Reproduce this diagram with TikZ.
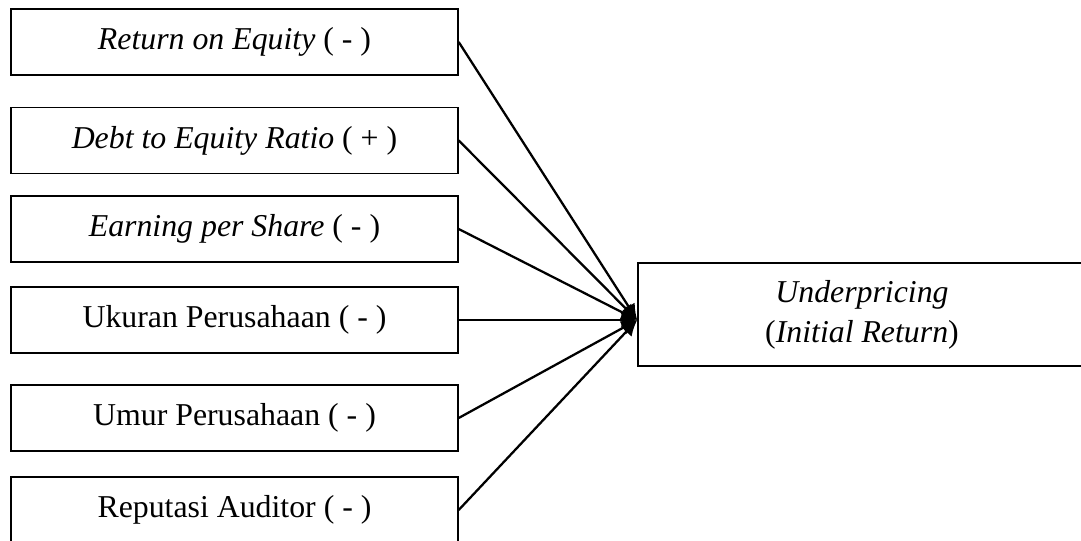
\documentclass[tikz,border=0pt]{standalone}
\usepackage{fontspec}
\setmainfont{Liberation Serif}
\usepackage{tikz}
\usetikzlibrary{arrows.meta, positioning, calc}

\begin{document}
\begin{tikzpicture}[x=0.44pt,y=-0.44pt,
  varbox/.style={draw, line width=0.8pt, minimum width=196.5pt, minimum height=29pt,
    inner sep=0pt, font=\fontsize{14pt}{17.5pt}\selectfont},
  depbox/.style={varbox, minimum width=197pt, minimum height=45.3pt, align=center},
  link/.style={line width=1pt, -{Latex[length=7pt, width=6.5pt]}}]

% PARAMETERS
\def\XL{234.5}   % x-centre of the left column

\useasboundingbox (0,0) rectangle (1081,541);

% ------------------------
% Left column: independent variables
% ------------------------
\node[varbox] (roe) at (\XL,42)    {\textit{Return on Equity} ( - )};
\node[varbox] (der) at (\XL,140.5) {\textit{Debt to Equity Ratio} ( + )};
\node[varbox] (eps) at (\XL,229)   {\textit{Earning per Share} ( - )};
\node[varbox] (size) at (\XL,320)  {Ukuran Perusahaan ( - )};
\node[varbox] (age) at (\XL,418)   {Umur Perusahaan ( - )};
\node[varbox] (audit) at (\XL,510) {Reputasi Auditor ( - )};

% ------------------------
% Right: dependent variable
% ------------------------
\node[depbox] (under) at (862,314.5)
  {\textit{Underpricing}\\(\textit{Initial Return})};

% common arrow tip on the left side of the box
\coordinate (hub) at (under.west |- size.east);

% ------------------------
% Arrows
% ------------------------
\foreach \src in {roe, der, eps, size, age, audit} {
  \draw[link] (\src.east) -- (hub);
}

\end{tikzpicture}
\end{document}
